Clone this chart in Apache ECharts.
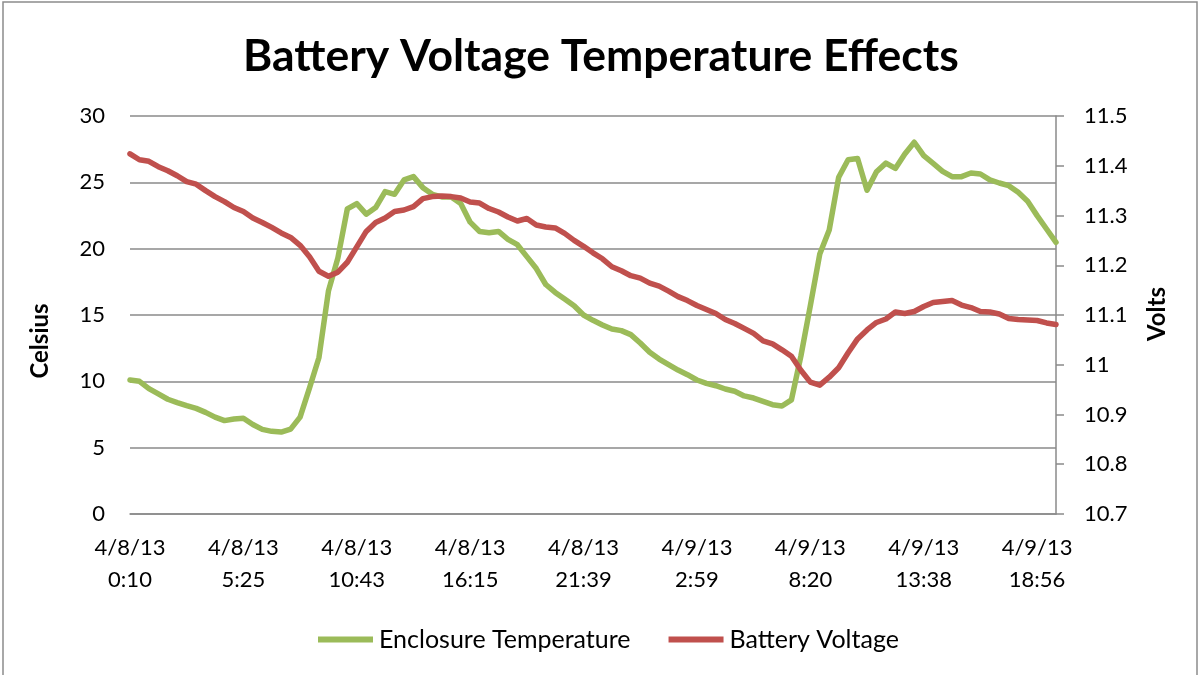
<!DOCTYPE html>
<html>
<head>
<meta charset="utf-8">
<script src="https://cdn.jsdelivr.net/npm/echarts@6/dist/echarts.min.js"></script>
<style>
html,body{margin:0;padding:0;background:#fff;}
#chart{width:1202px;height:675px;}
</style>
</head>
<body>
<div id="chart"></div>
<script>
const tickLabels = ["4/8/13\n0:10","4/8/13\n5:25","4/8/13\n10:43","4/8/13\n16:15","4/8/13\n21:39","4/9/13\n2:59","4/9/13\n8:20","4/9/13\n13:38","4/9/13\n18:56"];
const leftTicks = [0, 5, 10, 15, 20, 25, 30];
const rightTicks = [10.7, 10.8, 10.9, 11.0, 11.1, 11.2, 11.3, 11.4, 11.5];
const temperature = [
10.1,10.0,9.45,9.05,8.65,8.4,8.17,7.96,7.66,7.3,
7.04,7.16,7.22,6.75,6.38,6.23,6.18,6.4,7.3,9.5,
11.8,16.8,19.3,23.0,23.4,22.6,23.1,24.3,24.1,25.18,
25.43,24.6,24.1,23.9,23.9,23.4,22.0,21.3,21.2,21.3,
20.7,20.3,19.4,18.5,17.3,16.7,16.2,15.7,15.0,14.6,
14.25,13.94,13.82,13.52,12.89,12.19,11.68,11.26,10.85,10.5,
10.1,9.85,9.67,9.42,9.25,8.9,8.74,8.49,8.24,8.14,
8.6,11.9,15.7,19.6,21.4,25.38,26.7,26.8,24.4,25.8,
26.45,26.05,27.14,28.02,27.01,26.43,25.83,25.43,25.43,25.7,
25.63,25.18,24.95,24.75,24.25,23.57,22.49,21.48,20.48
];
const voltage = [
11.424,11.412,11.409,11.398,11.39,11.38,11.368,11.363,11.35,11.338,
11.328,11.316,11.308,11.295,11.286,11.276,11.265,11.256,11.24,11.217,
11.188,11.178,11.186,11.206,11.237,11.268,11.286,11.295,11.308,11.311,
11.318,11.334,11.338,11.339,11.338,11.335,11.327,11.325,11.314,11.307,
11.297,11.289,11.294,11.281,11.277,11.275,11.264,11.25,11.238,11.225,
11.213,11.197,11.189,11.179,11.174,11.164,11.158,11.148,11.137,11.129,
11.119,11.111,11.103,11.091,11.083,11.073,11.063,11.048,11.042,11.03,
11.017,10.989,10.965,10.959,10.975,10.994,11.024,11.052,11.07,11.085,
11.092,11.106,11.103,11.107,11.117,11.125,11.127,11.129,11.12,11.115,
11.107,11.106,11.102,11.093,11.091,11.09,11.089,11.084,11.081
];
const LABEL_EVERY = 12;
const categories = temperature.map((_, i) => i % LABEL_EVERY === 0 ? tickLabels[i / LABEL_EVERY] : String(i));

const FONT = 'Lato, "Noto Sans", sans-serif';
const GRID_COLOR = '#8a8a8a';
const chart = echarts.init(document.getElementById('chart'), null, {renderer: 'canvas'});
chart.setOption({
  animation: false,
  backgroundColor: '#ffffff',
  title: {
    text: 'Battery Voltage Temperature Effects',
    left: 'center',
    top: 29,
    textStyle: {fontFamily: FONT, fontWeight: 'bold', fontSize: 44.5, color: '#000'}
  },
  legend: {
    data: ['Enclosure Temperature', 'Battery Voltage'],
    left: 313,
    top: 622,
    icon: 'rect',
    itemWidth: 55,
    itemHeight: 6,
    itemGap: 38,
    textStyle: {fontFamily: FONT, fontSize: 25, color: '#000', padding: [0, 0, 0, 1]}
  },
  grid: {left: 130, right: 146, top: 116, bottom: 161, containLabel: false},
  xAxis: {
    type: 'category',
    boundaryGap: false,
    data: categories,
    axisLine: {show: true, lineStyle: {color: GRID_COLOR, width: 1.5}},
    axisTick: {show: false},
    axisLabel: {
      interval: LABEL_EVERY - 1,
      margin: 18,
      fontFamily: FONT, fontSize: 22, color: '#000', lineHeight: 32,
      formatter: (v, i) => (i % LABEL_EVERY === 0 ? tickLabels[i / LABEL_EVERY] : '')
    },
    splitLine: {show: false}
  },
  yAxis: [
    {
      type: 'value',
      min: leftTicks[0], max: leftTicks[leftTicks.length - 1], interval: 5,
      axisLine: {show: false},
      axisTick: {show: false},
      axisLabel: {margin: 25, fontFamily: FONT, fontSize: 22, color: '#000'},
      splitLine: {show: true, lineStyle: {color: GRID_COLOR, width: 1.5}}
    },
    {
      type: 'value',
      min: rightTicks[0], max: rightTicks[rightTicks.length - 1], interval: 0.1,
      position: 'right',
      axisLine: {show: true, lineStyle: {color: GRID_COLOR, width: 1.5}},
      axisTick: {show: true, inside: false, length: 8, lineStyle: {color: GRID_COLOR, width: 1.5}},
      axisLabel: {margin: 28, fontFamily: FONT, fontSize: 22, color: '#000',
        formatter: v => String(Math.round(v * 10) / 10)},
      splitLine: {show: false}
    }
  ],
  graphic: [
    {type: 'rect', z: -10, shape: {x: 3, y: 2, width: 1194, height: 720},
      style: {fill: 'none', stroke: '#8c8c8c', lineWidth: 1.5}},
    {type: 'text', x: 40, y: 341, rotation: Math.PI / 2,
      style: {text: 'Celsius', fontFamily: FONT, fontWeight: 'bold', fontSize: 24, fill: '#000',
        textAlign: 'center', textVerticalAlign: 'middle'}},
    {type: 'text', x: 1157, y: 314, rotation: Math.PI / 2,
      style: {text: 'Volts', fontFamily: FONT, fontWeight: 'bold', fontSize: 24, fill: '#000',
        textAlign: 'center', textVerticalAlign: 'middle'}}
  ],
  series: [
    {
      name: 'Enclosure Temperature', type: 'line', yAxisIndex: 0,
      data: temperature, showSymbol: false, smooth: false,
      lineStyle: {color: '#9BBB59', width: 5.5, cap: 'round', join: 'round'},
      itemStyle: {color: '#9BBB59'}
    },
    {
      name: 'Battery Voltage', type: 'line', yAxisIndex: 1,
      data: voltage, showSymbol: false, smooth: false,
      lineStyle: {color: '#C0504D', width: 5.5, cap: 'round', join: 'round'},
      itemStyle: {color: '#C0504D'}
    }
  ]
});
</script>
</body>
</html>
